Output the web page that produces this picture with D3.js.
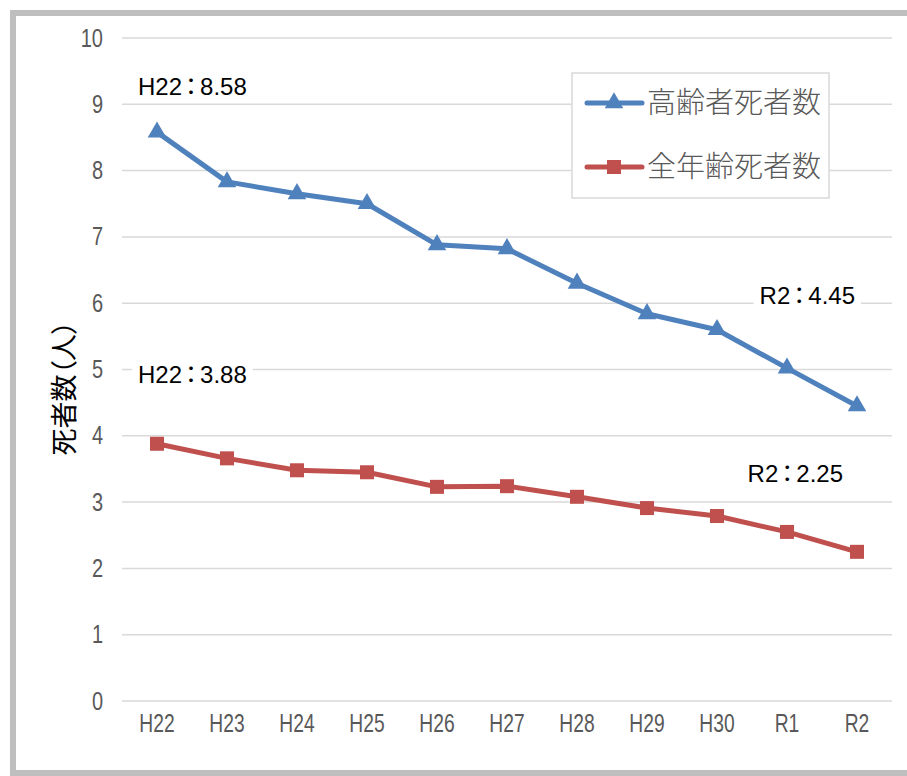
<!DOCTYPE html>
<html>
<head>
<meta charset="utf-8">
<script src="https://cdn.jsdelivr.net/npm/d3@7"></script>
<style>
  body { margin: 0; background: #fff; }
  svg { display: block; }
  .tick text { font-family: "Liberation Sans", "Roboto", sans-serif; fill: #595959; }
</style>
</head>
<body>
<svg class="root"></svg>
<script>
var years = ["H22", "H23", "H24", "H25", "H26", "H27", "H28", "H29", "H30", "R1", "R2"];
var elderly = [8.58, 7.83, 7.65, 7.50, 6.88, 6.82, 6.30, 5.84, 5.60, 5.02, 4.45];
var allAges = [3.88, 3.66, 3.48, 3.45, 3.23, 3.24, 3.08, 2.91, 2.79, 2.55, 2.25];
var yTicks = [0, 1, 2, 3, 4, 5, 6, 7, 8, 9, 10];
var seriesNames = ["高齢者死者数", "全年齢死者数"];

var W = 907, H = 776;
var margin = {top: 38, right: 15, bottom: 75, left: 122},
    width = 892 - margin.left,
    height = 701 - margin.top;

var svg = d3.select(".root").attr("width", W).attr("height", H);

// outer frame
svg.append("rect")
  .attr("x", 13).attr("y", 13)
  .attr("width", W + 20).attr("height", H - 16)
  .attr("fill", "none").attr("stroke", "#bfbfbf").attr("stroke-width", 6);

var chart = svg.append("g")
  .attr("transform", "translate(" + margin.left + "," + margin.top + ")");

var x = d3.scaleBand().domain(years).range([0, width]);
var y = d3.scaleLinear().domain([0, 10]).range([height, 0]);
var cx = function(i) { return x(years[i]) + x.bandwidth() / 2; };

// gridlines
chart.append("g").selectAll("line")
  .data(yTicks)
  .enter().append("line")
    .attr("x1", 0).attr("x2", width)
    .attr("y1", function(d) { return y(d); })
    .attr("y2", function(d) { return y(d); })
    .attr("stroke", "#d9d9d9").attr("stroke-width", 1.5);

// squeeze tick text to look like the narrow font of the original
function narrow(sel, k) {
  sel.each(function() {
    var len = this.getComputedTextLength();
    d3.select(this).attr("textLength", len * k).attr("lengthAdjust", "spacingAndGlyphs");
  });
}

var yAxis = chart.append("g")
  .call(d3.axisLeft(y).tickValues(yTicks).tickSize(0).tickPadding(19));
yAxis.select(".domain").remove();
yAxis.selectAll("text").style("font-size", "25px").call(narrow, 0.8);

var xAxis = chart.append("g")
  .attr("transform", "translate(0," + height + ")")
  .call(d3.axisBottom(x).tickSize(0).tickPadding(13));
xAxis.select(".domain").remove();
xAxis.selectAll("text").style("font-size", "25px").call(narrow, 0.77);

// y axis title
svg.append("text")
  .attr("transform", "translate(74,388) rotate(-90)")
  .attr("text-anchor", "middle")
  .style("font-family", "'Noto Sans CJK JP', sans-serif")
  .style("font-size", "27px")
  .style("font-feature-settings", "'palt'")
  .attr("fill", "#000")
  .text("死者数（人）");

var line = d3.line()
  .x(function(d, i) { return cx(i); })
  .y(function(d) { return y(d); });

var blue = "#4f81bd", red = "#c0504d";

chart.append("path").datum(elderly)
  .attr("d", line).attr("fill", "none")
  .attr("stroke", blue).attr("stroke-width", 5).attr("stroke-linejoin", "round");
chart.append("path").datum(allAges)
  .attr("d", line).attr("fill", "none")
  .attr("stroke", red).attr("stroke-width", 5).attr("stroke-linejoin", "round");

var tri = d3.symbol().type(d3.symbolTriangle).size(150);
chart.selectAll(".tri")
  .data(elderly)
  .enter().append("path")
    .attr("class", "tri")
    .attr("d", tri)
    .attr("fill", blue)
    .attr("transform", function(d, i) { return "translate(" + cx(i) + "," + y(d) + ")"; });

chart.selectAll(".sq")
  .data(allAges)
  .enter().append("rect")
    .attr("class", "sq")
    .attr("x", function(d, i) { return cx(i) - 7; })
    .attr("y", function(d) { return y(d) - 7; })
    .attr("width", 14).attr("height", 14)
    .attr("fill", red);

// value labels
var labels = [
  {pre: "H22", val: elderly[0].toFixed(2), i: 0, v: elderly[0], dx: -19, dy: -46, anchor: "start"},
  {pre: "H22", val: allAges[0].toFixed(2), i: 0, v: allAges[0], dx: -19, dy: -69, anchor: "start"},
  {pre: "R2", val: elderly[10].toFixed(2), i: 10, v: elderly[10], dx: -2, dy: -110, anchor: "end"},
  {pre: "R2", val: allAges[10].toFixed(2), i: 10, v: allAges[10], dx: -14, dy: -78, anchor: "end"}
];
var lg = chart.selectAll(".lbl")
  .data(labels)
  .enter().append("g")
    .attr("transform", function(d) { return "translate(" + (cx(d.i) + d.dx) + "," + (y(d.v) + d.dy) + ")"; });
var lt = lg.append("text")
  .attr("text-anchor", function(d) { return d.anchor; })
  .attr("dy", "0.35em")
  .style("font-family", "'Liberation Sans', 'Noto Sans CJK JP', sans-serif")
  .style("font-size", "24px")
  .style("font-feature-settings", "'palt'")
  .attr("fill", "#000");
lt.append("tspan").text(function(d) { return d.pre; });
lt.append("tspan").attr("dx", 3).text("：");
lt.append("tspan").attr("dx", 3).text(function(d) { return d.val; });
lt.each(function() {
  var b = this.getBBox();
  d3.select(this.parentNode).insert("rect", "text")
    .attr("x", b.x - 6).attr("y", b.y)
    .attr("width", b.width + 12).attr("height", b.height)
    .attr("fill", "#fff");
});

// legend
var legend = svg.append("g").attr("transform", "translate(572,73)");
legend.append("rect")
  .attr("width", 257).attr("height", 125)
  .attr("fill", "#fff").attr("stroke", "#d9d9d9").attr("stroke-width", 1.5);
var items = legend.selectAll(".item")
  .data(seriesNames)
  .enter().append("g")
    .attr("transform", function(d, i) { return "translate(0," + (30 + i * 64) + ")"; });
items.append("line")
  .attr("x1", 15).attr("x2", 70)
  .attr("stroke", function(d, i) { return i === 0 ? blue : red; })
  .attr("stroke-width", 5).attr("stroke-linecap", "round");
items.filter(function(d, i) { return i === 0; }).append("path")
  .attr("d", tri).attr("fill", blue).attr("transform", "translate(42,0)");
items.filter(function(d, i) { return i === 1; }).append("rect")
  .attr("x", 35).attr("y", -7).attr("width", 14).attr("height", 14).attr("fill", red);
items.append("text")
  .attr("x", 75).attr("dy", "0.35em")
  .style("font-family", "'Noto Sans CJK JP', sans-serif")
  .style("font-size", "29px")
  .style("font-weight", 300)
  .attr("fill", "#595959")
  .text(function(d) { return d; });
</script>
</body>
</html>
